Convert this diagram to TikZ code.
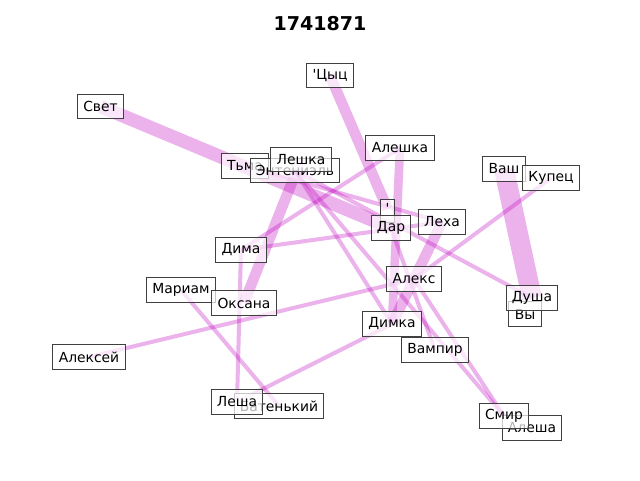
\documentclass[tikz,border=0pt]{standalone}
\usepackage{fontspec}
\setmainfont{DejaVu Sans}
\newfontfamily\djv{DejaVu Sans}
\begin{document}
\begin{tikzpicture}[x=0.75pt,y=-0.75pt,
  lbl/.style={draw=black!75,line width=0.75pt,fill=white,fill opacity=0.7,text opacity=1,
    font=\djv\fontsize{10.4}{12}\selectfont,inner xsep=4.4pt,inner ysep=0pt,minimum height=18.5pt},
  ed/.style={draw={rgb,255:red,191;green,0;blue,191},draw opacity=0.3,line width=#1},
  ed/.default=3pt]
\useasboundingbox (0,0) rectangle (640,480);
\node[font=\djv\fontsize{14.3}{16}\selectfont\bfseries] (title) at (320,24) {1741871};
% coordinates
\coordinate (cCyc) at (330,75.5);
\coordinate (cSvet) at (100.5,106.5);
\coordinate (cTma) at (245,166);
\coordinate (cEnt) at (295,170.5);
\coordinate (cLeshka) at (301,159.5);
\coordinate (cAleshka) at (400,148);
\coordinate (cVash) at (504,169);
\coordinate (cKupec) at (551,178);
\coordinate (cQ) at (387.5,209);
\coordinate (cDar) at (391,228);
\coordinate (cLeha) at (442,222);
\coordinate (cDima) at (241,250);
\coordinate (cMariam) at (181,290);
\coordinate (cOksana) at (244,303);
\coordinate (cAleks) at (414,279);
\coordinate (cDusha) at (532,298);
\coordinate (cVy) at (525,314);
\coordinate (cAleksey) at (89,357);
\coordinate (cDimka) at (392,324);
\coordinate (cVampir) at (435,350);
\coordinate (cLesha) at (237,402);
\coordinate (cBat) at (279,406);
\coordinate (cSmir) at (504,416);
\coordinate (cAlesha) at (532,428);
% edges
\draw[ed=10pt] (cSvet) -- (cDar);
\draw[ed=8pt] (cCyc) -- (cQ);
\draw[ed=6.5pt] (cAleshka) -- (cDimka);
\draw[ed=15pt] (cVash) -- (cDusha);
\draw[ed=8pt] (cLeha) -- (cDimka);
\draw[ed=8pt] (cLeshka) -- (cOksana);
\draw[ed] (cDima) -- (cLeha);
\draw[ed] (cDima) -- (cAleshka);
\draw[ed] (cDima) -- (cLesha);
\draw[ed] (cAleksey) -- (cAleks);
\draw[ed] (cMariam) -- (cBat);
\draw[ed] (cDimka) -- (cLesha);
\draw[ed] (cKupec) -- (cAleks);
\draw[ed] (cEnt) -- (cDusha);
\draw[ed] (cTma) -- (cLeha);
\draw[ed] (cEnt) -- (cDimka);
\draw[ed] (cEnt) -- (cSmir);
\draw[ed] (cAleks) -- (cSmir);
\draw[ed] (cDar) -- (cVampir);
% nodes
\node[lbl] (Cyc) at (cCyc) {'Цыц};
\node[lbl] (Svet) at (cSvet) {Свет};
\node[lbl] (Tma) at (cTma) {Тьма};
\node[lbl] (Ent) at (cEnt) {Энтениэль};
\node[lbl] (Leshka) at (cLeshka) {Лешка};
\node[lbl] (Aleshka) at (cAleshka) {Алешка};
\node[lbl] (Vash) at (cVash) {Ваш};
\node[lbl] (Kupec) at (cKupec) {Купец};
\node[lbl,minimum height=17pt,minimum width=11pt,inner xsep=3pt,anchor=north] (Q) at (387.5,199) {\raisebox{3pt}{'}};
\node[lbl] (Dar) at (cDar) {Дар};
\node[lbl] (Leha) at (cLeha) {Леха};
\node[lbl] (Dima) at (cDima) {Дима};
\node[lbl] (Mariam) at (cMariam) {Мариам};
\node[lbl] (Oksana) at (cOksana) {Оксана};
\node[lbl] (Aleks) at (cAleks) {Алекс};
\node[lbl] (Vy) at (cVy) {Вы};
\node[lbl] (Dusha) at (cDusha) {Душа};
\node[lbl] (Aleksey) at (cAleksey) {Алексей};
\node[lbl] (Dimka) at (cDimka) {Димка};
\node[lbl] (Vampir) at (cVampir) {Вампир};
\node[lbl] (Bat) at (cBat) {Батенький};
\node[lbl] (Lesha) at (cLesha) {Леша};
\node[lbl] (Alesha) at (cAlesha) {Алеша};
\node[lbl] (Smir) at (cSmir) {Смир};
\end{tikzpicture}
\end{document}
